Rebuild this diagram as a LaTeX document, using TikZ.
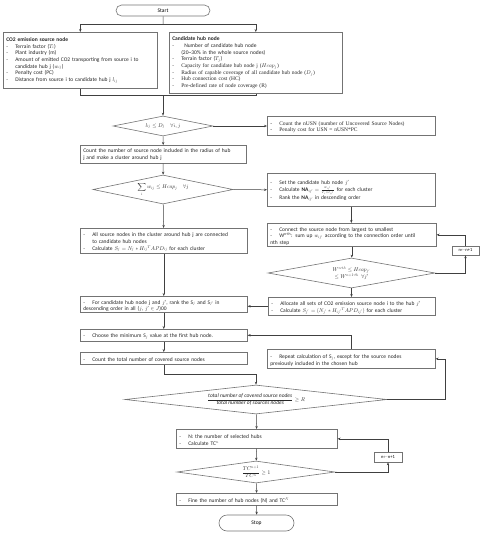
\documentclass[tikz,border=0pt]{standalone}
\usepackage{amsmath}
\usepackage{amssymb}
\usepackage{fontspec}
\setmainfont{Carlito}
\newfontfamily\serifline{Liberation Serif}
\DeclareFontShape{OML}{cmm}{m}{it}{<->cmmi10}{}
\DeclareFontShape{OMS}{cmsy}{m}{n}{<->cmsy10}{}
\DeclareFontShape{OT1}{cmr}{m}{n}{<->cmr10}{}
\usetikzlibrary{arrows.meta, shapes.geometric, shapes.misc}
\newcommand{\itm}{\par\hangindent=9pt\hangafter=1\noindent\makebox[9pt][l]{-}}

\begin{document}
\begin{tikzpicture}[x=1pt, y=-1pt,
  line/.style={draw=black!75, line width=0.5pt},
  arr/.style={line, -{Stealth[length=3pt,width=2.4pt]}},
  box/.style={draw=black!55, line width=0.6pt, anchor=north west, inner xsep=3pt, inner ysep=1pt, align=left, font=\fontsize{5.5}{6.7}\selectfont, text=black!85},
  term/.style={draw=black!55, line width=0.6pt, rounded rectangle, inner sep=0pt, font=\fontsize{5.5}{6.7}\selectfont},
  dia/.style={draw=black!55, line width=0.6pt, diamond, inner sep=0pt, align=center, font=\fontsize{5.5}{6.7}\selectfont, text=black!85},
  nstep/.style={draw=black!55, line width=0.6pt, inner sep=0pt, font=\fontsize{4.5}{5}\selectfont}]
\useasboundingbox (0,0) rectangle (484,533);
\node[term, minimum width=94pt, minimum height=11pt] (start) at (163,10.5) {Start};
\node[box, text width=148pt, minimum height=56pt] (co2) at (3,32) {\textbf{CO2 emission source node}\itm Terrain factor ($T_i$)\itm Plant industry (m)\itm Amount of emitted CO2 transporting from source i to\newline candidate hub j ($w_{ij}$)\itm Penalty cost (PC)\itm Distance from source i to candidate hub j $l_{ij}$};
\node[box, text width=167pt, minimum height=61pt] (hub) at (169,32) {\textbf{Candidate hub node}\itm\hspace{3pt}Number of candidate hub node\newline(20\textasciitilde30\% in the whole source nodes)\itm Terrain factor ($T_j$)\itm{\serifline Capacity for candidate hub node j ($Hcap_j$)}\itm{\serifline Radius of capable coverage of all candidate hub node ($D_j$)}\itm{\serifline Hub connection cost (HC)}\itm{\serifline Pre-defined rate of node coverage (R)}};
\node[dia, aspect=5, minimum width=100pt, minimum height=20pt] (d1) at (163,126) {$l_{ij}\leq D_j\quad\forall i,j$};
\node[box, text width=162pt, minimum height=19pt] (nusn) at (267,116) {\serifline\itm Count the nUSN (number of Uncovered Source Nodes)\itm Penalty cost for USN = nUSN*PC};
\node[box, text width=160pt, minimum height=18pt] (clus) at (80,145) {Count the number of source node included in the radius of hub\newline j and make a cluster around hub j};
\node[dia, aspect=4.8, minimum width=140pt, minimum height=29pt] (d2) at (163,189.5) {$\displaystyle\sum_{i} w_{ij}\leq Hcap_j\quad\forall j$};
\node[box, text width=162pt, minimum height=33pt] (cand) at (267,173) {\itm Set the candidate hub node $j'$\itm Calculate $\mathbf{NA}_{ij'}=\frac{w_{ij'}}{T_i+l_{ij'}}$ for each cluster\itm Rank the $\mathbf{NA}_{ij'}$ in descending order};
\node[box, text width=161pt, minimum height=25pt] (all) at (80,228) {\itm All source nodes in the cluster around hub j are connected\newline to candidate hub nodes\itm Calculate $S_j=N_j*H_{ij}{}^{T}APD_{ij}$ for each cluster};
\node[box, text width=163pt, minimum height=23pt] (conn) at (267,223) {\itm Connect the source node from largest to smallest\itm W\textsuperscript{n-th}: sum up $w_{ij'}$ according to the connection order until\newline nth step};
\node[nstep, minimum width=27pt, minimum height=9pt] (nb1) at (465.5,250.5) {n$\leftarrow$n+1};
\node[dia, aspect=5.6, minimum width=167pt, minimum height=30pt] (d3) at (351.5,273) {$W^{n\text{-}th}\leq Hcap_{j'}$\\$\leq W^{n+1\text{-}th}\ \ \forall j'$};
\node[box, text width=161pt, minimum height=18pt] (alloc) at (268,297) {\itm Allocate all sets of CO2 emission source node i to the hub $j'$\itm Calculate $S_{j'}=(N_{j'}*H_{ij'}{}^{T}APD_{ij'})$ for each cluster};
\node[box, text width=161pt, minimum height=16pt] (rank) at (80,296) {\itm For candidate hub node j and $j'$, rank the S$_j$ and S$_{j'}$ in\newline descending order in all ($j$, $j'\in J$)00};
\node[box, text width=161pt, minimum height=12pt] (choose) at (80,329) {\itm Choose the minimum S$_j$ value at the first hub node.};
\node[box, text width=161pt, minimum height=12pt] (cov) at (80,352) {\itm Count the total number of covered source nodes};
\node[box, text width=162pt, minimum height=19pt] (rep) at (267,349) {\itm Repeat calculation of S$_j$, except for the source nodes\newline previously included in the chosen hub};
\node[dia, aspect=9, minimum width=262pt, minimum height=29pt] (d4) at (256,399.5) {$\dfrac{\mathit{total\ number\ of\ covered\ source\ nodes}}{\mathit{total\ number\ of\ sources\ nodes}}\geq R$};
\node[box, text width=155pt, minimum height=19pt] (sel) at (176,429) {\itm N: the number of selected hubs\itm Calculate TC$^n$};
\node[nstep, minimum width=28pt, minimum height=10pt] (nb2) at (388,457) {n$\leftarrow$n+1};
\node[dia, aspect=7.2, minimum width=158pt, minimum height=22pt] (d5) at (256,472) {$\dfrac{TC^{n+1}}{TC^{n}}\geq 1$};
\node[box, text width=155pt, minimum height=12pt] (fine) at (176,493) {\itm Fine the number of hub nodes (N) and TC$^N$};
\node[term, minimum width=75pt, minimum height=16pt] (stop) at (256.5,523) {Stop};
\draw[line] (start) -- ++(0,13.5) coordinate (split);
\draw[arr] (split) -| (co2);
\draw[arr] (split) -| (hub);
\coordinate (join) at (163,95);
\draw[line] (co2) |- (join);
\draw[line] (hub) |- (join);
\draw[arr] (join) -- (d1);
\draw[arr] (d1.east) -- (d1.east -| nusn.west);
\draw[arr] (d1) -- (clus);
\draw[arr] (clus) -- (d2);
\draw[arr] (d2.east) -- (cand.west);
\draw[arr] (d2) -- (all);
\draw[arr] (cand.south) -- (cand.south |- conn.north);
\draw[arr] (conn.south) -- (conn.south |- d3.north);
\draw[arr] (d3.east) -| (nb1);
\draw[arr] (nb1) |- (conn);
\draw[arr] (d3.south) -- (d3.south |- alloc.north);
\draw[arr] (alloc.west) -- (alloc.west -| rank.east);
\draw[arr] (all) -- (rank);
\draw[arr] (rank) -- (choose);
\draw[arr] (choose) -- (cov);
\draw[arr] (rep) |- (choose);
\draw[arr] (cov.south) -- ++(0,10) -| (d4.north);
\draw[arr] (d4.east) -- ++(58,0) |- (rep.east);
\draw[arr] (d4) -- (sel);
\draw[arr] (sel) -- (d5);
\draw[arr] (d5.east) -| (nb2);
\draw[arr] (nb2) |- (sel);
\draw[arr] (d5) -- (fine);
\draw[arr] (fine) -- (stop);
\end{tikzpicture}
\end{document}
